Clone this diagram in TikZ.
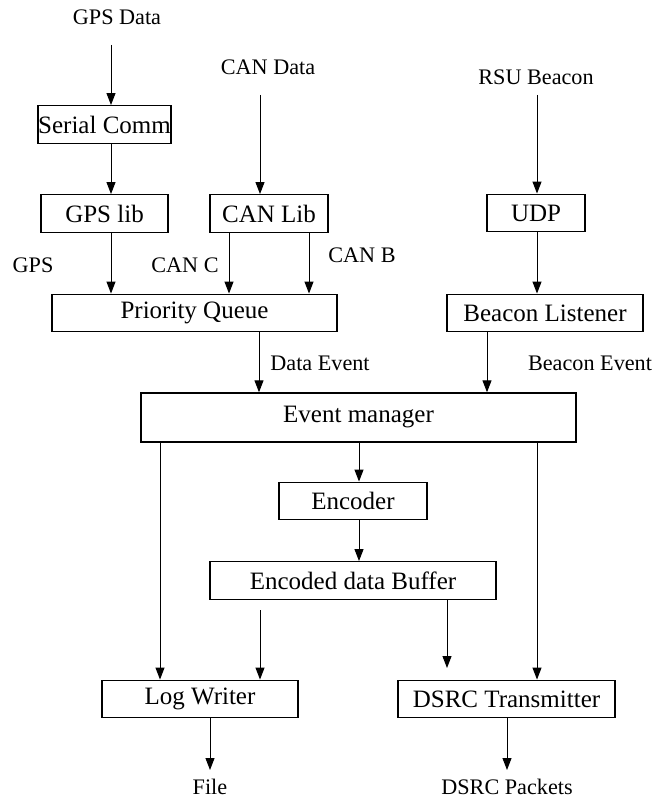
\documentclass[tikz,border=0pt]{standalone}
\usepackage{fontspec}
\setmainfont{Liberation Serif}
\usetikzlibrary{arrows.meta}
\tikzset{
	box/.style={draw, line width=0.7pt, inner sep=0pt, minimum height=18.75pt, font=\fontsize{12.5}{14}\selectfont},
	lbl/.style={inner sep=0pt, font=\fontsize{11.1}{13}\selectfont},
	arr/.style={-{Triangle[length=6pt,width=4.5pt]}, line width=0.5pt},
}

\begin{document}
\begin{tikzpicture}[x=0.5pt,y=-0.5pt]
	\useasboundingbox (0,0) rectangle (653,802);
	% inputs
	\node[lbl] (gpsdata) at (117,17) {GPS Data};
	\node[lbl] (candata) at (268,67) {CAN Data};
	\node[lbl] (rsu) at (536,77) {RSU Beacon};
	\node[box,minimum width=63.5pt] (serial) at (104.5,124.5) {Serial Comm};
	\node[box,minimum width=63.5pt] (gpslib) at (104.5,213.5) {GPS lib};
	\node[box,minimum width=59pt] (canlib) at (269,213.5) {CAN Lib};
	\node[box,minimum width=49pt] (udp) at (536,213) {UDP};
	\node[box,minimum width=142.5pt] (pq) at (194.5,313) {Priority Queue};
	\node[box,minimum width=98pt] (beacon) at (545,313) {Beacon Listener};
	\node[box,minimum width=217.5pt,minimum height=24.5pt] (em) at (358.5,417.5) {Event manager};
	\node[box,minimum width=74pt] (enc) at (353,501) {Encoder};
	\node[box,minimum width=143pt] (buf) at (353,580.5) {Encoded data Buffer};
	\node[box,minimum width=98pt] (lw) at (200,699) {Log Writer};
	\node[box,minimum width=108.5pt] (dsrc) at (506.5,699) {DSRC Transmitter};
	\node[lbl] (file) at (210,787) {File};
	\node[lbl] (packets) at (507,787) {DSRC Packets};
	% arrow labels
	\node[lbl] (lgps) at (33,265) {GPS};
	\node[lbl] (lcanc) at (185,265) {CAN C};
	\node[lbl] (lcanb) at (362,255) {CAN B};
	\node[lbl] (ldata) at (320,363) {Data Event};
	\node[lbl] (lbeacon) at (590,363) {Beacon Event};
	% columns and free ends
	\coordinate (g0) at (111,45);
	\coordinate (c0) at (260,95);
	\coordinate (r0) at (537,95);
	\coordinate (cc) at (229,0);
	\coordinate (cb) at (309,0);
	\coordinate (de) at (259,0);
	\coordinate (be) at (487,0);
	\coordinate (ex) at (359,0);
	\coordinate (lx) at (160,0);
	\coordinate (tx) at (537,0);
	\coordinate (b1) at (260,610);
	\coordinate (b2) at (447,668);
	\coordinate (f1) at (210,770);
	\coordinate (p1) at (507,770);
	% connectors
	\draw[arr] (g0) -- (g0 |- serial.north);
	\draw[arr] (serial.south -| g0) -- (gpslib.north -| g0);
	\draw[arr] (gpslib.south -| g0) -- (pq.north -| g0);
	\draw[arr] (c0) -- (c0 |- canlib.north);
	\draw[arr] (canlib.south -| cc) -- (pq.north -| cc);
	\draw[arr] (canlib.south -| cb) -- (pq.north -| cb);
	\draw[arr] (r0) -- (r0 |- udp.north);
	\draw[arr] (udp.south -| r0) -- (beacon.north -| r0);
	\draw[arr] (pq.south -| de) -- (em.north -| de);
	\draw[arr] (beacon.south -| be) -- (em.north -| be);
	\draw[arr] (em.south -| ex) -- (enc.north -| ex);
	\draw[arr] (enc.south -| ex) -- (buf.north -| ex);
	\draw[arr] (em.south -| lx) -- (lw.north -| lx);
	\draw[arr] (em.south -| tx) -- (dsrc.north -| tx);
	\draw[arr] (b1) -- (b1 |- lw.north);
	\draw[arr] (buf.south -| b2) -- (b2);
	\draw[arr] (lw.south -| f1) -- (f1);
	\draw[arr] (dsrc.south -| p1) -- (p1);
\end{tikzpicture}
\end{document}
